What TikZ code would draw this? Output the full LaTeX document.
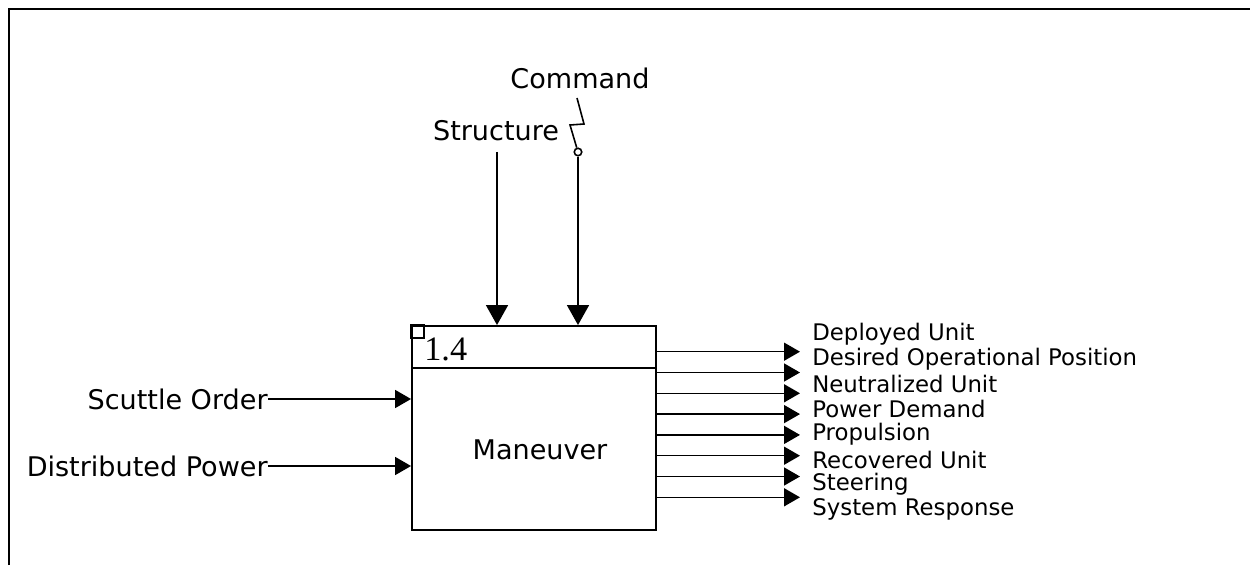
\documentclass[tikz,border=0pt]{standalone}
\usepackage{fontspec}
\setmainfont{DejaVu Sans}
\newfontfamily\numfont{Liberation Serif}
\usetikzlibrary{arrows.meta}
\newcommand{\corA}{black}
\tikzset{
  flow/.style={draw=\corA, line width=0.9pt, -{Triangle[length=0.32cm,width=0.36cm]}},
  flowbig/.style={flow, -{Triangle[length=0.4cm,width=0.44cm]}},
  lbl/.style={inner sep=0pt, font=\fontsize{15.4}{18}\selectfont},
  outlbl/.style={inner sep=0pt, anchor=west, font=\fontsize{13}{15}\selectfont},
}

\begin{document}
\begin{tikzpicture}[x=0.02cm, y=0.02cm]
          \useasboundingbox (0,0) rectangle (1250,565);

          % frame
        \draw[line width=1.1pt] (9,0) -- (9,556) -- (1250,556);

          % function box
        \node[draw=\corA, line width=1.1pt, minimum width=4.88cm, minimum height=4.08cm, inner sep=0pt] (man) at (534,137) {};
        \coordinate (div) at (0,197);
        \draw[line width=1.1pt] (man.west |- div) -- (man.east |- div);
        \draw[line width=0.8pt] (man.north west) rectangle ++(13,-13);
        \node[anchor=west, inner sep=0pt, font=\numfont\fontsize{19.5}{22}\selectfont] (num) at (424,216) {1.4};
        \node[lbl] (mname) at (540,115) {Maneuver};

          % input 0
        \node[lbl, anchor=east] (scut) at (268,166) {Scuttle Order};
        \draw[flow] (scut.east) -- (scut.east -| man.west);

          % input 1
        \node[lbl, anchor=east] (dpow) at (268,99) {Distributed Power};
        \draw[flow] (dpow.east) -- (dpow.east -| man.west);

          % control 0
        \node[lbl] (strc) at (496,434) {Structure};
        \coordinate (strtop) at (497,413);
        \draw[flowbig] (strtop) -- (strtop |- man.north);

          % control 1
        \node[lbl] (cmd) at (580,487) {Command};
        \coordinate (cmdtop) at (577,467);
        \node[circle, draw=\corA, line width=0.9pt, minimum size=0.15cm, inner sep=0pt] (tun) at (578,413) {};
        \draw[line width=0.9pt] (cmdtop) -- (584,441) -- (570,440) -- (tun);
        \draw[flowbig] (tun.south) -- (tun.south |- man.north);

          % output 0
        \coordinate (o0) at (800,213.3);
        \draw[flow] (man.east |- o0) -- (o0);
        \node[outlbl] (t0) at (812,231) {Deployed Unit};

          % output 1
        \coordinate (o1) at (800,192.5);
        \draw[flow] (man.east |- o1) -- (o1);
        \node[outlbl] (t1) at (812,205.9) {Desired Operational Position};

          % output 2
        \coordinate (o2) at (800,171.7);
        \draw[flow] (man.east |- o2) -- (o2);
        \node[outlbl] (t2) at (812,180.8) {Neutralized Unit};

          % output 3
        \coordinate (o3) at (800,150.9);
        \draw[flow] (man.east |- o3) -- (o3);
        \node[outlbl] (t3) at (812,155.7) {Power Demand};

          % output 4
        \coordinate (o4) at (800,130.1);
        \draw[flow] (man.east |- o4) -- (o4);
        \node[outlbl] (t4) at (812,130.6) {Propulsion};

          % output 5
        \coordinate (o5) at (800,109.3);
        \draw[flow] (man.east |- o5) -- (o5);
        \node[outlbl] (t5) at (812,105.5) {Recovered Unit};

          % output 6
        \coordinate (o6) at (800,88.5);
        \draw[flow] (man.east |- o6) -- (o6);
        \node[outlbl] (t6) at (812,80.4) {Steering};

          % output 7
        \coordinate (o7) at (800,67.7);
        \draw[flow] (man.east |- o7) -- (o7);
        \node[outlbl] (t7) at (812,55.3) {System Response};
    \end{tikzpicture}
\end{document}
